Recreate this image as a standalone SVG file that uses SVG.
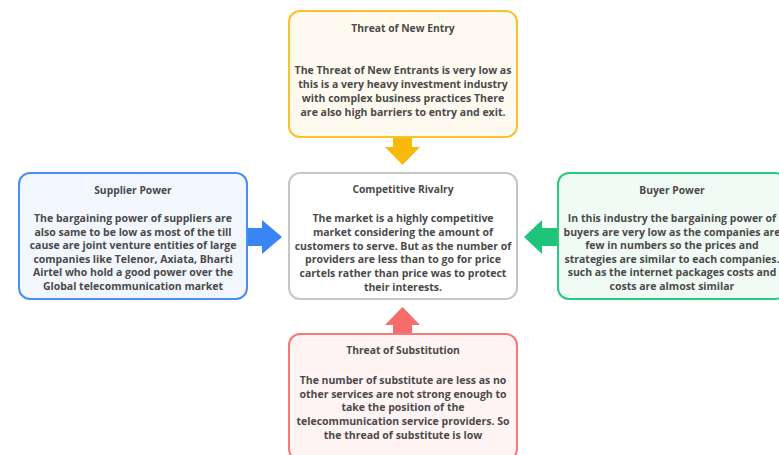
<svg xmlns="http://www.w3.org/2000/svg" width="779" height="455" viewBox="0 0 779 455">
<style>
.box{stroke-width:2}
.t{font-family:"Open Sans","Liberation Sans",sans-serif;font-weight:700;font-size:10.5px;fill:#4a4a4a;text-anchor:middle}
.h{font-size:10.3px}
</style>
<rect width="779" height="455" fill="#ffffff"/>
<g id="connectors">
<path d="M393,138 H412 V147 H420 L402.5,165 L385,147 H393 Z" fill="#f9b90c"/>
<path d="M248,228 H262 V220 L282,237 L262,254 V246 H248 Z" fill="#3a85f5"/>
<path d="M557,228 H542 V220 L524,237 L542,254 V246 H557 Z" fill="#1ec47c"/>
<path d="M393,333 H412 V325 H420 L402.5,307 L385,325 H393 Z" fill="#f76b6b"/>
</g>
<g id="new-entry">
<rect class="box" x="289" y="11" width="228" height="126" rx="11" fill="#fffaf0" stroke="#f9c12a"/>
<text class="t h" x="403" y="32">Threat of New Entry</text>
<text class="t" x="403" y="74">The Threat of New Entrants is very low as</text>
<text class="t" x="403" y="88">this is a very heavy investment industry</text>
<text class="t" x="403" y="102">with complex business practices There</text>
<text class="t" x="403" y="116">are also high barriers to entry and exit.</text>
</g>
<g id="supplier-power">
<rect class="box" x="19" y="173" width="228" height="126" rx="11" fill="#f2f6fd" stroke="#4b8ef3"/>
<text class="t h" x="133" y="194">Supplier Power</text>
<text class="t" x="133" y="222">The bargaining power of suppliers are</text>
<text class="t" x="133" y="235.5">also same to be low as most of the till</text>
<text class="t" x="133" y="249">cause are joint venture entities of large</text>
<text class="t" x="133" y="262.5">companies like Telenor, Axiata, Bharti</text>
<text class="t" x="133" y="276">Airtel who hold a good power over the</text>
<text class="t" x="133" y="290">Global telecommunication market</text>
</g>
<g id="competitive-rivalry">
<rect class="box" x="289" y="173" width="228" height="126" rx="11" fill="#ffffff" stroke="#c6c6c6"/>
<text class="t h" x="403" y="193">Competitive Rivalry</text>
<text class="t" x="403" y="222">The market is a highly competitive</text>
<text class="t" x="403" y="235.5">market considering the amount of</text>
<text class="t" x="403" y="249.5">customers to serve. But as the number of</text>
<text class="t" x="403" y="263">providers are less than to go for price</text>
<text class="t" x="403" y="277">cartels rather than price was to protect</text>
<text class="t" x="403" y="291">their interests.</text>
</g>
<g id="buyer-power">
<rect class="box" x="558" y="173" width="228" height="126" rx="11" fill="#f0fbf5" stroke="#26cb7b"/>
<text class="t h" x="672" y="194">Buyer Power</text>
<text class="t" x="672" y="222">In this industry the bargaining power of</text>
<text class="t" x="672" y="235.5">buyers are very low as the companies are</text>
<text class="t" x="672" y="249">few in numbers so the prices and</text>
<text class="t" x="672" y="262.5">strategies are similar to each companies.</text>
<text class="t" x="672" y="276">such as the internet packages costs and</text>
<text class="t" x="672" y="290">costs are almost similar</text>
</g>
<g id="substitution">
<rect class="box" x="289" y="334" width="228" height="126" rx="11" fill="#fff3f3" stroke="#f67878"/>
<text class="t h" x="403" y="354">Threat of Substitution</text>
<text class="t" x="403" y="384">The number of substitute are less as no</text>
<text class="t" x="403" y="397.5">other services are not strong enough to</text>
<text class="t" x="403" y="411">take the position of the</text>
<text class="t" x="403" y="425">telecommunication service providers. So</text>
<text class="t" x="403" y="439">the thread of substitute is low</text>
</g>
</svg>
